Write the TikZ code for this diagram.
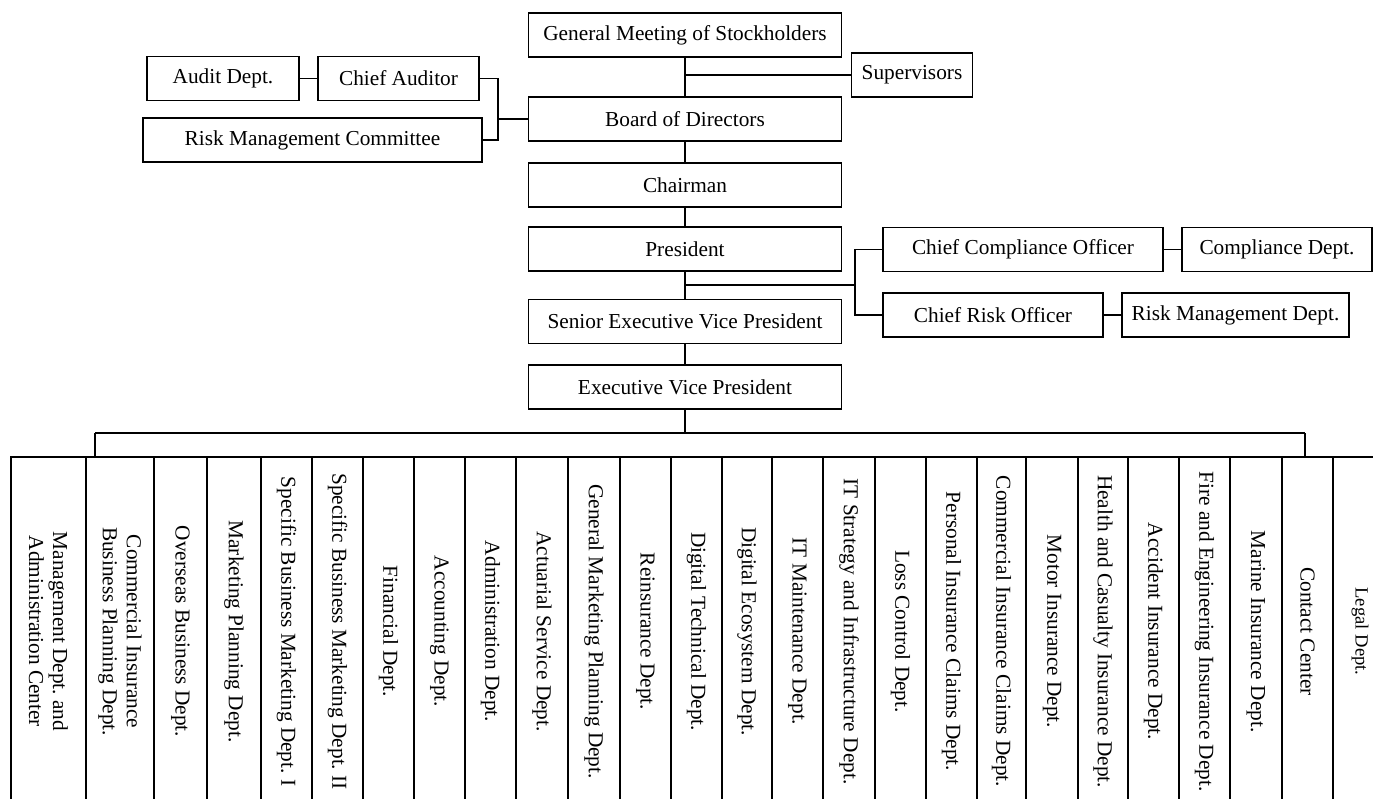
\documentclass[tikz,border=0pt]{standalone}
\usepackage{fontspec}
\setmainfont{Liberation Serif}
\usetikzlibrary{calc}
\definecolor{cink}{HTML}{000000}
\frenchspacing

\begin{document}
\begin{tikzpicture}[x=0.5pt, y=-0.5pt, line width=0.9pt, cink,
  font=\fontsize{10.65}{12}\selectfont,
  box/.style={draw, inner sep=0pt, minimum height=22pt},
  dept/.style={draw, inner sep=0pt, rotate=-90, align=center, minimum width=174.5pt}]
\useasboundingbox (0,0) rectangle (1373,799);
%% ------------------------------------------------------------------ top of the chain
\node[box, minimum width=156.5pt] (gm)    at (685,35)    {General Meeting of Stockholders};
\node[box, minimum width=60.5pt]  (sup)   at (912,75)    {Supervisors};
\node[box, minimum width=156.5pt] (bod)   at (685,119)   {Board of Directors};
\node[box, minimum width=156.5pt] (chair) at (685,185)   {Chairman};
\node[box, minimum width=156.5pt] (pres)  at (685,249)   {President};
\node[box, minimum width=156.5pt] (sevp)  at (685,321.5) {Senior Executive Vice President};
\node[box, minimum width=156.5pt] (evp)   at (685,387)   {Executive Vice President};
% audit side, left of the board
\node[box, minimum width=76pt]    (audit) at (223,78.5)  {Audit Dept.};
\node[box, minimum width=80.5pt]  (caud)  at (398.5,78.5) {Chief Auditor};
\node[box, minimum width=169.5pt] (rmc)   at (312.5,140) {Risk Management Committee};
% compliance and risk, right of the president
\node[box, minimum width=140pt]   (cco)   at (1023,249.5) {Chief Compliance Officer};
\node[box, minimum width=95pt]    (comp)  at (1277,249.5) {Compliance Dept.};
\node[box, minimum width=110pt]   (cro)   at (993,315)   {Chief Risk Officer};
\node[box, minimum width=113.5pt] (rmd)   at (1235.5,315) {Risk Management Dept.};
%% ------------------------------------------------------------------ the departments
\foreach \xa/\xb/\txt [count=\i] in {
  11/86/{Management Dept. and\\Administration Center},
  86/154/{Commercial Insurance\\Business Planning Dept.},
  154/207/{Overseas Business Dept.},
  207/261/{Marketing Planning Dept.},
  261/312/{Specific Business Marketing Dept. I},
  312/363/{Specific Business Marketing Dept. II},
  363/414/{Financial Dept.},
  414/465/{Accounting Dept.},
  465/516/{Administration Dept.},
  516/568/{Actuarial Service Dept.},
  568/620/{General Marketing Planning Dept.},
  620/671/{Reinsurance Dept.},
  671/722/{Digital Technical Dept.},
  722/772/{Digital Ecosystem Dept.},
  772/823/{IT Maintenance Dept.},
  823/875/{IT Strategy and Infrastructure Dept.},
  875/926/{Loss Control Dept.},
  926/977/{Personal Insurance Claims Dept.},
  977/1026/{Commercial Insurance Claims Dept.},
  1026/1078/{Motor Insurance Dept.},
  1078/1128/{Health and Casualty Insurance Dept.},
  1128/1179/{Accident Insurance Dept.},
  1179/1230/{Fire and Engineering Insurance Dept.},
  1230/1282/{Marine Insurance Dept.},
  1282/1333/{Contact Center},
  1333/1387/{{\fontsize{9.3}{11}\selectfont Legal Dept.}}} {
  \pgfmathsetmacro{\cx}{(\xa+\xb)/2}
  \pgfmathsetmacro{\cw}{(\xb-\xa)*0.5}
  \node[dept, minimum height=\cw pt] (c\i) at (\cx,631.5) {\txt};
}
%% ------------------------------------------------------------------ connectors
\coordinate (jsup)  at (685,75);
\coordinate (jaud)  at (498,119);
\coordinate (jpres) at (685,285);
\coordinate (jrisk) at (855,285);
\coordinate (busL)  at (95,433);
\coordinate (busR)  at (1305,433);
\draw (gm.south) -- (bod.north);
\draw (jsup) -- (sup.west);
\draw (bod.south) -- (chair.north);
\draw (chair.south) -- (pres.north);
\draw (pres.south) -- (sevp.north);
\draw (sevp.south) -- (evp.north);
% the audit branch
\draw (audit.east) -- (caud.west);
\draw (caud.east) -- (caud.east -| jaud) -- (rmc.east -| jaud) -- (rmc.east);
\draw (jaud) -- (bod.west);
% the compliance and risk branch
\draw (jpres) -- (jrisk);
\draw (cco.west) -- (cco.west -| jrisk) -- (cro.west -| jrisk) -- (cro.west);
\draw (cco.east) -- (comp.west);
\draw (cro.east) -- (rmd.west);
% the bus to the departments
\draw (evp.south) -- (evp.south |- busL);
\draw (busL) -- (busR);
\draw (busL) -- (busL |- c2.west);
\draw (busR) -- (busR |- c25.west);
\end{tikzpicture}
\end{document}
